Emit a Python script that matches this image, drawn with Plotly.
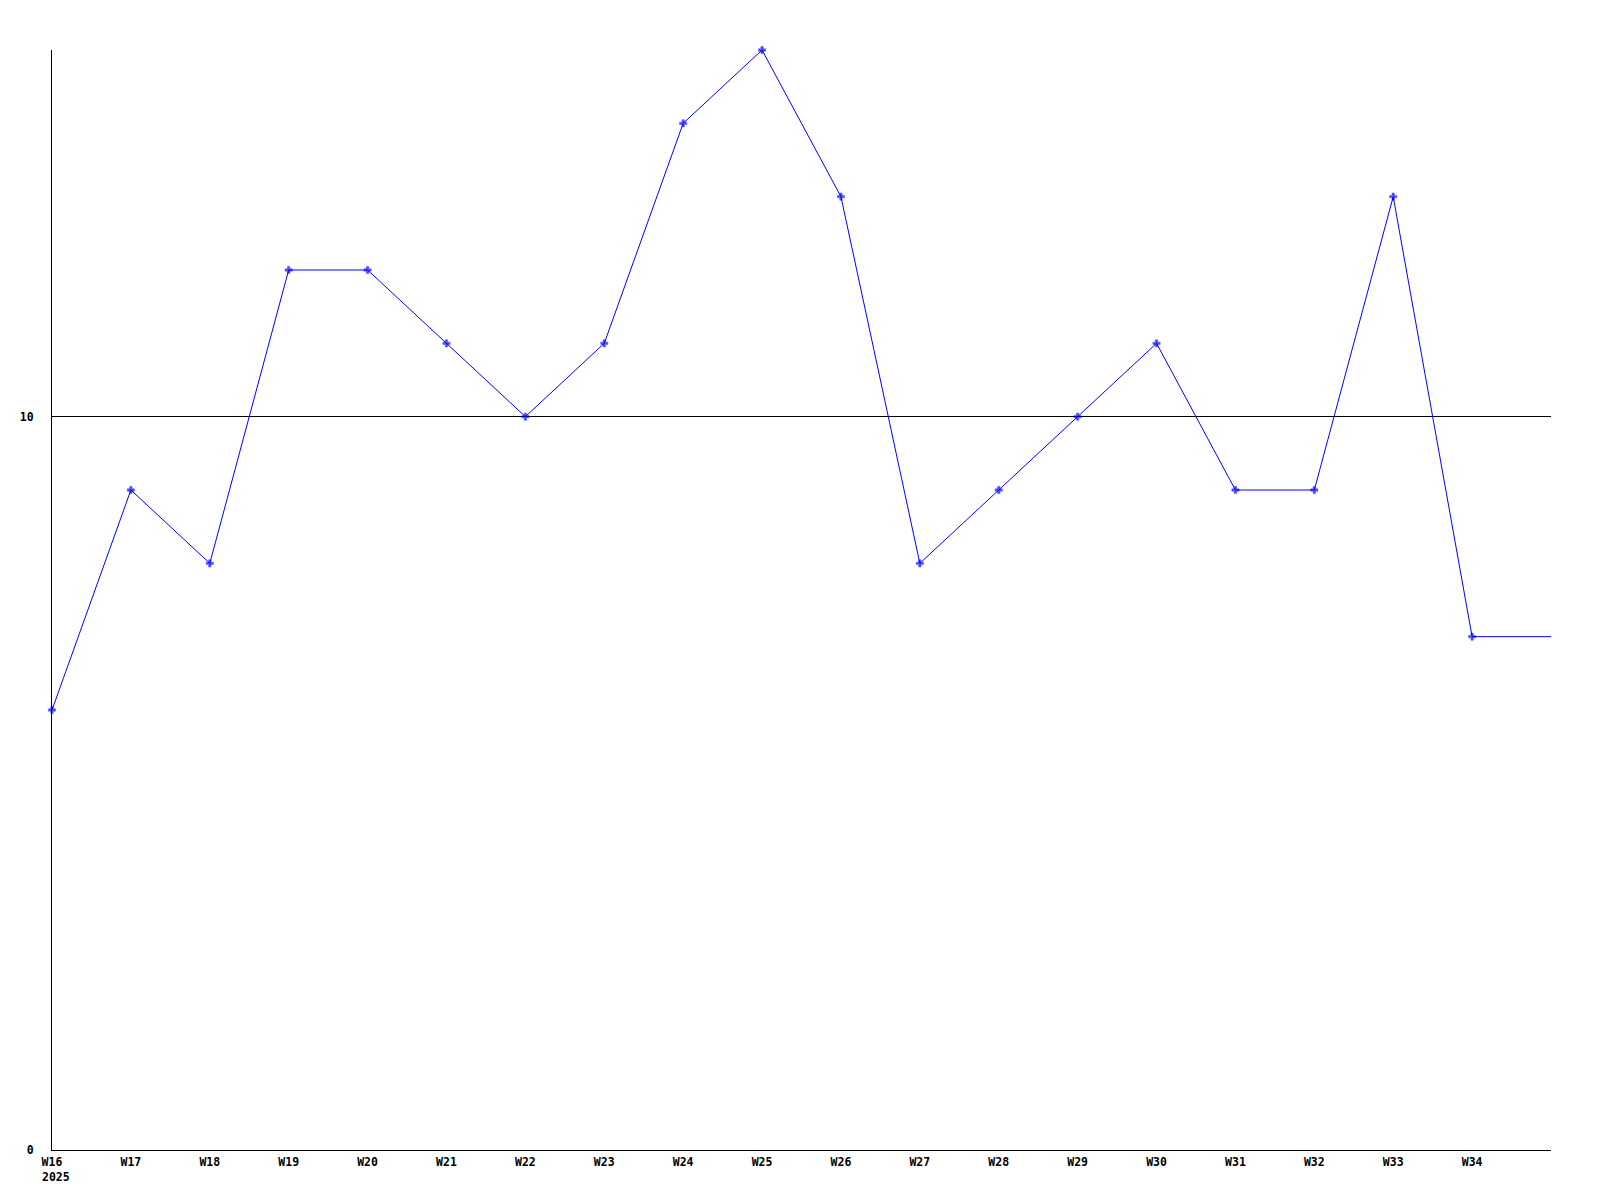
import plotly.graph_objects as go

weeks = [16, 17, 18, 19, 20, 21, 22, 23, 24, 25, 26, 27, 28, 29, 30, 31, 32, 33, 34, 35]
values = [6, 9, 8, 12, 12, 11, 10, 11, 14, 15, 13, 8, 9, 10, 11, 9, 9, 13, 7, 7]
tick_weeks = list(range(16, 35))
tick_labels = ["W%d" % w for w in tick_weeks]
year_label = "2025"

marker_sizes = [6] * (len(weeks) - 1) + [0]

font = dict(family="DejaVu Sans Mono", size=11.5, color="black", weight="bold")

fig = go.Figure()
fig.add_trace(go.Scatter(
    x=weeks, y=values, mode="lines+markers",
    line=dict(color="#0000ff", width=1),
    marker=dict(symbol="cross", size=marker_sizes, color="#0000ff",
                line=dict(width=0.5, color="#0000ff")),
    cliponaxis=False,
    showlegend=False,
))

fig.add_annotation(x=weeks[0], y=0, xref="x", yref="y", text=year_label,
                   showarrow=False, xanchor="left", yanchor="middle",
                   xshift=-12, yshift=-27, font=font)

fig.update_layout(
    width=1592, height=1192,
    margin=dict(l=42, r=49, t=42, b=50),
    paper_bgcolor="white", plot_bgcolor="white",
    font=font,
    xaxis=dict(range=[16, 35], tickvals=tick_weeks, ticktext=tick_labels,
               showgrid=False, zeroline=False, showline=True, linecolor="black",
               linewidth=1, ticks="", ticklabelstandoff=1, tickfont=font),
    yaxis=dict(range=[0, 15], tickvals=[0, 10], ticktext=["0", "10"],
               showgrid=True, gridcolor="black", gridwidth=1,
               zeroline=False, showline=True, linecolor="black", linewidth=1,
               ticks="", ticklabelstandoff=15, tickfont=font),
)

fig.write_html("out.html")
